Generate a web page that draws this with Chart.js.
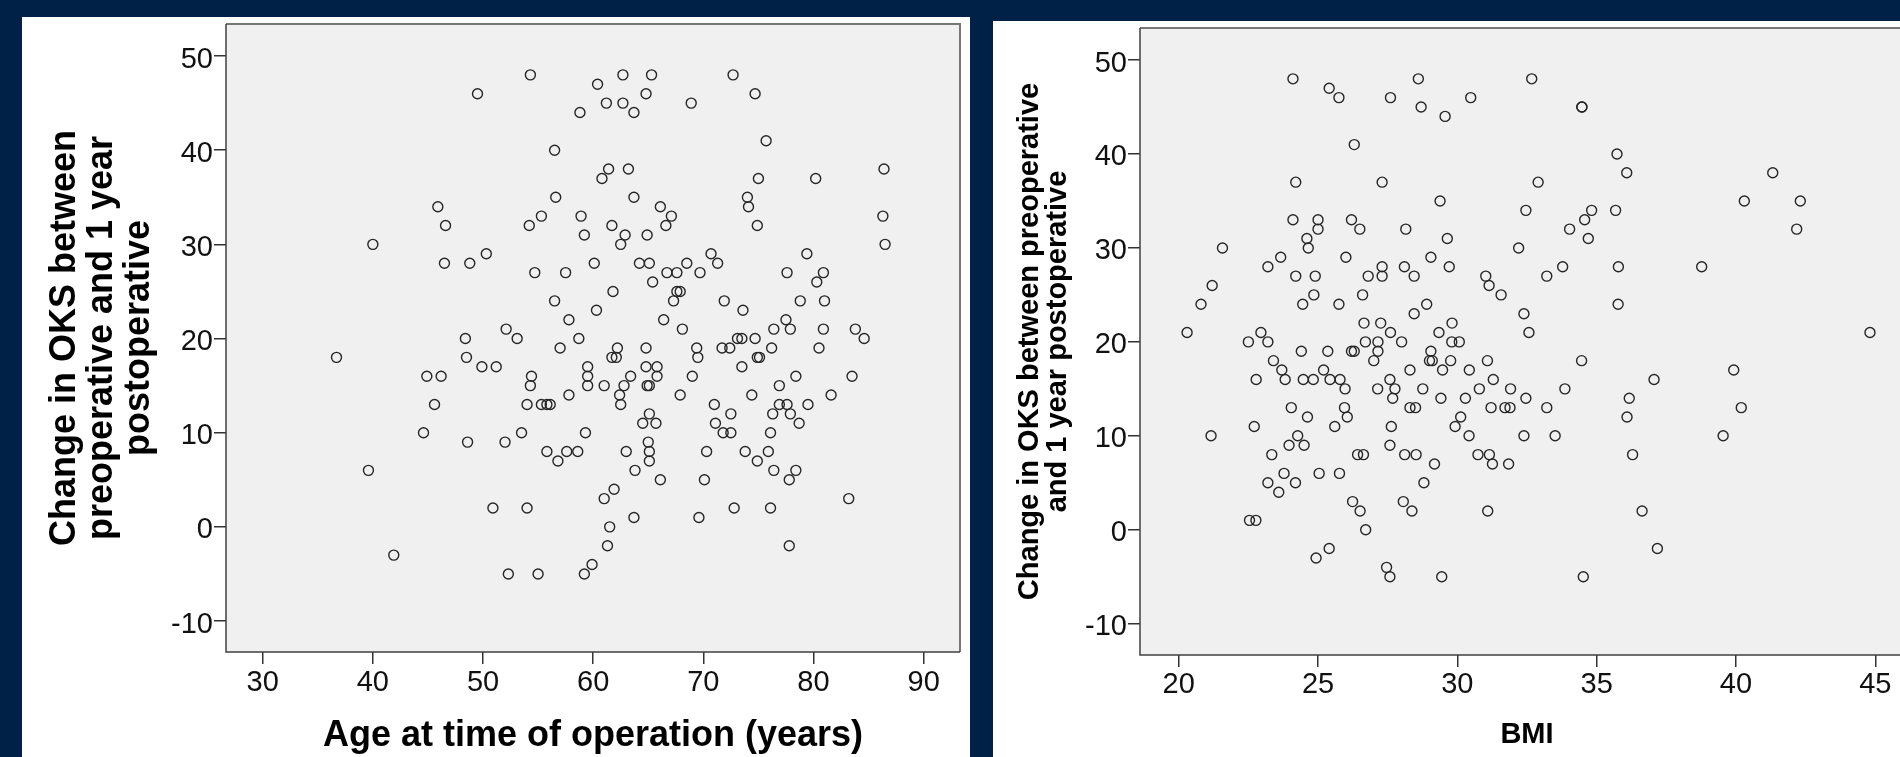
<!DOCTYPE html>
<html lang="en">

<head>
    <meta charset="UTF-8">
    <title>OKS change vs age and BMI</title>
    <script src="https://cdn.jsdelivr.net/npm/chart.js@4.4.0/dist/chart.umd.min.js"></script>
    <style>
        body { margin: 0; width: 1900px; height: 757px; overflow: hidden; position: relative; background: #002147; }
        .panel { position: absolute; background: #ffffff; }
        #agePanel { left: 22px; top: 17px; width: 948px; height: 740px; }
        #bmiPanel { left: 993px; top: 21px; width: 947px; height: 736px; }
    </style>
</head>

<body>
    <div class="panel" id="agePanel"><canvas id="ageChart" width="948" height="740"></canvas></div>
    <div class="panel" id="bmiPanel"><canvas id="bmiChart" width="947" height="736"></canvas></div>
    <script>
        // left plot: age at operation vs change in OKS
        let ageYears = [36.7, 39.6, 40.0, 41.9, 44.6, 44.9, 45.6, 45.9, 46.2, 46.5, 46.6, 48.4, 48.5, 48.6, 48.8, 49.5, 49.9, 50.3, 50.9, 51.2,
            52.0, 52.1, 52.3, 53.1, 53.5, 54.0, 54.0, 54.2, 54.3, 54.3, 54.4, 54.7, 55.0, 55.3, 55.3, 55.8, 56.1, 55.8, 56.5, 56.5,
            56.6, 56.8, 57.0, 57.5, 57.6, 57.8, 57.8, 58.6, 58.7, 58.8, 58.9, 59.2, 59.2, 59.3, 59.5, 59.5, 59.5, 59.9, 60.1, 60.3,
            60.4, 60.8, 61.0, 61.0, 61.2, 61.3, 61.4, 61.5, 61.7, 61.7, 61.8, 61.9, 62.1, 62.2, 62.4, 62.5, 62.5, 62.7, 62.7, 62.8,
            62.9, 63.0, 63.2, 63.4, 63.7, 63.7, 63.7, 63.8, 64.2, 64.5, 64.8, 64.8, 64.8, 64.9, 64.9, 65.0, 65.1, 65.1, 65.1, 65.1,
            65.1, 65.3, 65.4, 65.7, 65.8, 65.8, 66.1, 66.1, 66.4, 66.6, 66.7, 67.1, 67.3, 67.6, 67.6, 67.9, 67.9, 68.1, 68.5, 68.9,
            69.0, 69.4, 69.5, 69.6, 69.7, 70.1, 70.3, 70.7, 71.0, 71.1, 71.3, 71.7, 71.8, 71.9, 72.4, 72.5, 72.5, 72.7, 72.8, 73.1,
            73.5, 73.5, 73.6, 73.8, 74.0, 74.1, 74.4, 74.7, 74.7, 74.9, 74.9, 74.9, 75.0, 75.1, 75.7, 75.9, 76.1, 76.1, 76.2, 76.3,
            76.4, 76.4, 76.9, 76.9, 77.5, 77.6, 77.6, 77.8, 77.8, 77.9, 77.9, 78.4, 78.4, 78.7, 78.8, 79.4, 79.5, 80.2, 80.3, 80.5,
            80.9, 80.9, 81.0, 81.6, 83.2, 83.5, 83.8, 84.6, 86.3, 86.4, 86.5];
        let ageOksChange = [18, 6, 30, -3, 10, 16, 13, 34, 16, 28, 32, 20, 18, 9, 28, 46, 17, 29, 2, 17,
            9, 21, -5, 20, 10, 13, 2, 32, 48, 15, 16, 27, -5, 33, 13, 13, 13, 8, 40, 24,
            35, 7, 19, 27, 8, 22, 14, 8, 20, 44, 33, 31, -5, 10, 17, 16, 15, -4, 28, 23,
            47, 37, 15, 3, 45, -2, 38, 0, 32, 18, 25, 4, 18, 19, 14, 30, 13, 48, 45, 15,
            31, 8, 38, 16, 44, 35, 1, 6, 28, 11, 46, 19, 17, 31, 15, 9, 28, 15, 12, 8,
            7, 48, 26, 11, 17, 16, 34, 5, 22, 32, 27, 33, 24, 27, 25, 25, 14, 21, 28, 45,
            16, 19, 18, 1, 27, 5, 8, 29, 13, 11, 28, 19, 10, 24, 19, 12, 10, 48, 2, 20,
            20, 17, 23, 8, 35, 34, 14, 46, 20, 32, 18, 7, 37, 18, 41, 8, 10, 2, 19, 12,
            21, 6, 15, 13, 22, 27, 13, 5, -2, 21, 12, 16, 6, 11, 24, 29, 13, 37, 26, 19,
            27, 21, 24, 14, 3, 16, 21, 20, 33, 38, 30];

        // right plot: BMI vs change in OKS
        let bmiValues = [20.3, 20.8, 21.16, 21.2, 21.57, 22.5, 22.54, 22.71, 22.77, 22.78, 22.95, 23.2, 23.2, 23.2, 23.34, 23.4, 23.59, 23.66, 23.7, 23.78,
            23.82, 23.96, 24.04, 24.1, 24.1, 24.19, 24.2, 24.2, 24.27, 24.4, 24.45, 24.47, 24.5, 24.6, 24.62, 24.65, 24.83, 24.85, 24.9, 24.93,
            25.0, 25.0, 25.04, 25.2, 25.35, 25.4, 25.4, 25.43, 25.6, 25.75, 25.75, 25.77, 25.79, 25.95, 25.97, 26.0, 26.05, 26.2, 26.2, 26.24,
            26.3, 26.3, 26.42, 26.5, 26.51, 26.6, 26.63, 26.65, 26.7, 26.71, 26.8, 27.0, 27.14, 27.15, 27.15, 27.25, 27.3, 27.3, 27.3, 27.46,
            27.58, 27.58, 27.58, 27.6, 27.6, 27.63, 27.68, 27.76, 28.0, 28.06, 28.1, 28.11, 28.15, 28.3, 28.3, 28.37, 28.45, 28.45, 28.5, 28.52,
            28.6, 28.7, 28.76, 28.8, 28.9, 29.0, 29.05, 29.05, 29.1, 29.18, 29.34, 29.38, 29.41, 29.44, 29.47, 29.56, 29.64, 29.71, 29.76, 29.8,
            29.81, 29.92, 30.07, 30.12, 30.29, 30.42, 30.43, 30.48, 30.74, 30.79, 31.02, 31.08, 31.09, 31.14, 31.15, 31.21, 31.26, 31.29, 31.57, 31.71,
            31.84, 31.89, 31.91, 32.2, 32.39, 32.39, 32.46, 32.46, 32.57, 32.67, 32.9, 33.21, 33.21, 33.51, 33.78, 33.86, 34.03, 34.46, 34.47, 34.47,
            34.52, 34.57, 34.7, 34.82, 35.68, 35.73, 35.77, 35.78, 36.08, 36.09, 36.17, 36.29, 36.63, 37.06, 37.18, 38.77, 39.54, 39.92, 40.19, 40.3,
            41.32, 42.18, 42.31, 44.81];
        let bmiOksChange = [21, 24, 10, 26, 30, 20, 1, 11, 1, 16, 21, 28, 20, 5, 8, 18, 4, 29, 17, 6,
            16, 9, 13, 48, 33, 5, 37, 27, 10, 19, 24, 16, 9, 31, 12, 30, 16, 25, 27, -3,
            33, 32, 6, 17, 19, 47, -2, 16, 11, 46, 24, 6, 16, 13, 15, 29, 12, 33, 19, 3,
            41, 19, 8, 32, 2, 25, 8, 22, 20, 0, 27, 18, 15, 20, 19, 22, 37, 28, 27, -4,
            16, 9, -5, 46, 21, 11, 14, 15, 20, 3, 28, 8, 32, 17, 13, 2, 27, 23, 13, 8,
            48, 45, 15, 5, 24, 18, 29, 19, 18, 7, 21, 35, 14, -5, 17, 44, 31, 28, 18, 20,
            22, 11, 20, 12, 14, 10, 17, 46, 8, 15, 27, 18, 2, 26, 8, 13, 7, 16, 25, 13,
            7, 13, 15, 30, 23, 10, 34, 14, 21, 48, 37, 27, 13, 10, 28, 15, 32, 18, 45, 45,
            -5, 33, 31, 34, 34, 40, 24, 28, 38, 12, 14, 8, 2, 16, -2, 28, 10, 17, 13, 35,
            38, 32, 35, 21];

        let oksTicks = [-10, 0, 10, 20, 30, 40, 50];
        let ageTicks = [30, 40, 50, 60, 70, 80, 90];
        let bmiTicks = [20, 25, 30, 35, 40, 45];

        Chart.defaults.font.family = "'Liberation Sans', Arial, sans-serif";
        Chart.defaults.color = '#111';

        // grey plot background and frame, like the SPSS output
        const plotFrame = {
            id: 'plotFrame',
            beforeDraw(chart) {
                const { ctx, chartArea: a } = chart;
                ctx.save();
                ctx.fillStyle = '#f0f0f0';
                ctx.fillRect(a.left, a.top, a.right - a.left, a.bottom - a.top);
                ctx.restore();
            },
            afterDraw(chart) {
                const { ctx, chartArea: a } = chart;
                ctx.save();
                ctx.lineWidth = 2;
                ctx.strokeStyle = '#777';
                ctx.beginPath();
                ctx.moveTo(a.left, a.top);
                ctx.lineTo(a.right, a.top);
                ctx.lineTo(a.right, a.bottom);
                ctx.stroke();
                ctx.lineWidth = 1.5;
                ctx.strokeStyle = '#404040';
                ctx.beginPath();
                ctx.moveTo(a.left, a.top);
                ctx.lineTo(a.left, a.bottom);
                ctx.lineTo(a.right, a.bottom);
                ctx.stroke();
                ctx.restore();
            }
        };

        function toPoints(xs, ys) {
            return xs.map(function (x, i) { return { x: x, y: ys[i] }; });
        }

        function makeChart(id, cfg) {
            return new Chart(document.getElementById(id).getContext('2d'), {
                type: 'scatter',
                data: {
                    datasets: [{
                        data: toPoints(cfg.xs, cfg.ys),
                        pointRadius: 5,
                        pointBorderWidth: 1.4,
                        borderColor: '#262626',
                        backgroundColor: 'rgba(0,0,0,0)'
                    }]
                },
                options: {
                    responsive: false,
                    animation: false,
                    devicePixelRatio: 1,
                    events: [],
                    layout: { padding: { left: 0, top: 7, right: cfg.padRight, bottom: 0 } },
                    plugins: { legend: { display: false }, tooltip: { enabled: false } },
                    scales: {
                        x: {
                            type: 'linear',
                            min: cfg.xMin,
                            max: cfg.xMax,
                            afterBuildTicks: function (s) { s.ticks = cfg.xTicks.map(function (v) { return { value: v }; }); },
                            afterFit: function (s) {
                                s.height = cfg.xAxisHeight;
                                s.paddingLeft = 0;
                                s.paddingRight = 0;
                            },
                            border: { display: false },
                            grid: { display: true, drawOnChartArea: false, drawTicks: true, tickLength: 12, color: '#333', lineWidth: 1.5 },
                            ticks: { font: { size: 29 }, color: '#111', padding: cfg.xTickPad, maxRotation: 0 },
                            title: {
                                display: true,
                                text: cfg.xTitle,
                                font: { size: cfg.xTitleSize, weight: 'bold', lineHeight: 1.2 },
                                color: '#000',
                                padding: { top: 0, bottom: cfg.xTitlePad }
                            }
                        },
                        y: {
                            type: 'linear',
                            min: cfg.yMin,
                            max: cfg.yMax,
                            afterBuildTicks: function (s) { s.ticks = oksTicks.map(function (v) { return { value: v }; }); },
                            afterFit: function (s) {
                                s.width = cfg.yAxisWidth;
                                s.paddingTop = 0;
                                s.paddingBottom = 0;
                            },
                            border: { display: false },
                            grid: { display: true, drawOnChartArea: false, drawTicks: true, tickLength: 12, color: '#333', lineWidth: 1.5 },
                            ticks: { font: { size: 29 }, color: '#111', padding: 1, labelOffset: 3.5 },
                            title: {
                                display: true,
                                text: cfg.yTitle,
                                font: { size: cfg.yTitleSize, weight: 'bold', lineHeight: cfg.yTitleLine },
                                color: '#000',
                                padding: { top: cfg.yTitlePad, bottom: 0 }
                            }
                        }
                    }
                },
                plugins: [plotFrame]
            });
        }

        makeChart('ageChart', {
            xs: ageYears, ys: ageOksChange,
            xMin: 26.67, xMax: 93.3, yMin: -13.29, yMax: 53.4,
            xTicks: ageTicks,
            padRight: 10, yAxisWidth: 204, xAxisHeight: 105, xTickPad: 2,
            xTitle: 'Age at time of operation (years)', xTitleSize: 36, xTitlePad: -1,
            yTitle: ['Change in OKS between', 'preoperative and 1 year', 'postoperative'],
            yTitleSize: 36, yTitleLine: 1.02, yTitlePad: 25
        });

        makeChart('bmiChart', {
            xs: bmiValues, ys: bmiOksChange,
            xMin: 18.61, xMax: 46.39, yMin: -13.33, yMax: 53.41,
            xTicks: bmiTicks,
            padRight: 26, yAxisWidth: 147, xAxisHeight: 102, xTickPad: 1,
            xTitle: 'BMI', xTitleSize: 29, xTitlePad: 5,
            yTitle: ['Change in OKS between preoperative', 'and 1 year postoperative'],
            yTitleSize: 29, yTitleLine: 0.97, yTitlePad: 23
        });
    </script>
</body>

</html>
